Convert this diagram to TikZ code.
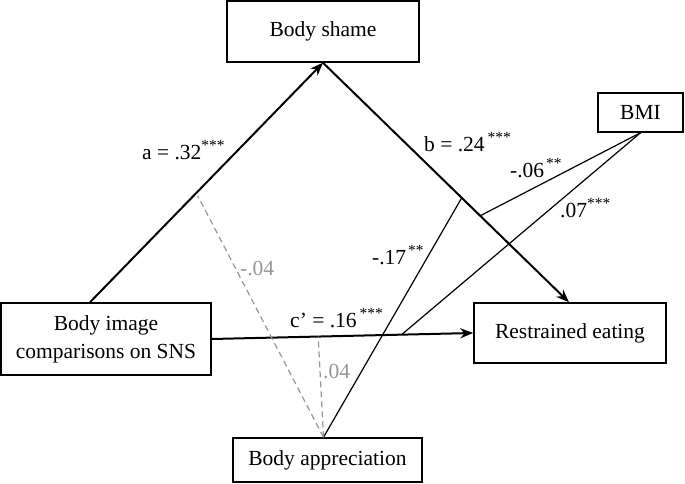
\documentclass[tikz,border=0pt]{standalone}
\usepackage{fontspec}
\setmainfont{Liberation Serif}
\usetikzlibrary{arrows.meta}
\definecolor{lgray}{RGB}{150,150,150}
\newcommand{\sigstar}[2][1pt]{\hspace{#1}\raisebox{9pt}{\fontsize{15.5}{15.5}\selectfont #2}}
\tikzset{
  box/.style={draw, line width=1.5pt, rectangle, inner sep=0pt, align=center, font=\fontsize{21.5}{28}\selectfont},
  arr/.style={line width=2pt, -{Stealth[length=13pt,width=10pt]}},
  plain/.style={line width=1.2pt},
  dashgray/.style={line width=1.2pt, draw=lgray, dash pattern=on 6pt off 4pt},
  lbl/.style={anchor=base west, inner sep=0pt, font=\fontsize{21.5}{25}\selectfont},
  glbl/.style={lbl, text=lgray},
}
\begin{document}
\begin{tikzpicture}[x=1pt,y=-1pt]
\useasboundingbox (0,0) rectangle (685,484);
% boxes
\node[box, minimum width=192pt, minimum height=61pt] (shame) at (323,31.5) {Body shame};
\node[box, minimum width=85pt, minimum height=39pt] (bmi) at (640.5,112.5) {BMI};
\node[box, minimum width=210pt, minimum height=72pt] (sns) at (106,339) {Body image\\comparisons on SNS};
\node[box, minimum width=192pt, minimum height=60pt] (rest) at (570,333) {Restrained eating};
\node[box, minimum width=189pt, minimum height=44pt] (appr) at (327.5,460) {Body appreciation};
% main paths
\draw[arr] ([xshift=-16pt]sns.north) -- coordinate[pos=0.445] (aMid) (shame.south);
\draw[arr] (shame.south) -- coordinate[pos=0.564] (bApp) coordinate[pos=0.639] (bBmi) ([xshift=-1pt]rest.north);
\draw[arr] (sns.east) -- coordinate[pos=0.407] (cApp) coordinate[pos=0.726] (cBmi) (rest.west);
% moderator paths
\coordinate (apTop) at ([xshift=-4pt]appr.north);
\draw[plain] (apTop) -- (bApp);
\draw[plain] (bmi.south) -- (bBmi);
\draw[plain] (bmi.south) -- (cBmi);
\draw[dashgray] (apTop) -- ([xshift=4pt]aMid);
\draw[dashgray] (apTop) -- (cApp);
% labels
\node[lbl] (la) at (142,159) {a = .32\sigstar[0pt]{***}};
\node[lbl] (lb) at (424,151) {b = .24\sigstar[3pt]{***}};
\node[lbl] (lbmi1) at (510,177) {-.06\sigstar[2pt]{**}};
\node[lbl] (lbmi2) at (560,217) {.07\sigstar[0pt]{***}};
\node[lbl] (lapp) at (372,264) {-.17\sigstar[2pt]{**}};
\node[lbl] (lc) at (290,327) {c’ = .16\sigstar[3pt]{***}};
\node[glbl] (lg1) at (240,275) {-.04};
\node[glbl] (lg2) at (323,378) {.04};
\end{tikzpicture}
\end{document}
